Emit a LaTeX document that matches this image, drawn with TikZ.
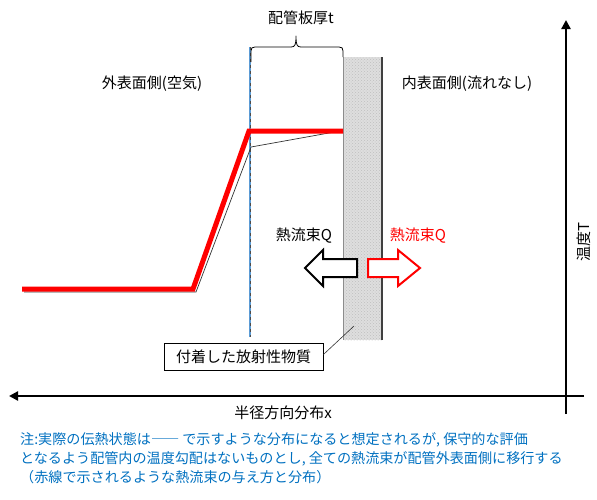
\documentclass[tikz,border=0pt]{standalone}
\usepackage{fontspec}
\setmainfont{Noto Sans CJK JP}
\usetikzlibrary{arrows.meta,patterns}
\definecolor{notec}{RGB}{0,112,192}
\definecolor{redl}{RGB}{255,0,0}
\definecolor{bluel}{RGB}{91,155,213}
\definecolor{layerc}{RGB}{222,222,222}
\begin{document}
\begin{tikzpicture}[x=1pt,y=-1pt,
  lbl/.style={inner sep=0pt,font=\fontsize{15}{17}\selectfont},
  notetxt/.style={inner sep=0pt,anchor=west,text=notec,font=\fontsize{14.1}{16}\selectfont},
  axis/.style={line width=2.4pt,-{Triangle[length=9pt,width=9pt]}},
  hollowarrow/.style={line width=2pt,fill=white,line join=miter}]
\useasboundingbox (0,0) rectangle (597,499);
% layer
\fill[layerc] (343,57) rectangle (382,340);
\fill[pattern=crosshatch dots,pattern color=black!25] (343,57) rectangle (382,340);
\draw[black!45,line width=0.6pt] (343,57) -- (343,340);
\draw[black!75,line width=1.6pt] (382,57) -- (382,340);
% pipe inner wall line (blue dashed)
\coordinate (wt) at (250,47);
\coordinate (wb) at (250,337);
\draw[bluel,line width=1.6pt] (wt) -- (wb);
\draw[black!70,line width=0.5pt,dash pattern=on 3pt off 3pt] (wt) -- (wb);
% brace
\draw[line width=0.8pt,line join=round] (251,62) -- (251,51) .. controls (251,48) and (252,47) .. (255,47) -- (291,47)
  .. controls (295,47) and (296,45) .. (296,36) .. controls (296,45) and (297,47) .. (301,47) -- (339,47)
  .. controls (342,47) and (343,48) .. (343,51) -- (343,57);
\node[lbl] (t) at (301,18) {配管板厚t};
% labels
\node[lbl] (out) at (152,84) {外表面側(空気)};
\node[lbl] (in) at (467,84) {内表面側(流れなし)};
% actual temperature (thin black)
\coordinate (b1) at (24,292);
\coordinate (b2) at (196,292);
\coordinate (b3) at (251,147);
\coordinate (b4) at (340,131);
\draw[black!80,line width=0.7pt] (b1) -- (b2) -- (b3) -- (b4);
% conservative temperature (red)
\coordinate (r1) at (22,289);
\coordinate (r2) at (193,289);
\coordinate (r3) at (249,131);
\coordinate (r4) at (343,131);
\draw[redl,line width=5pt,line join=miter] (r1) -- (r2) -- (r3) -- (r4);
% heat flux arrows
\draw[hollowarrow,draw=black] (305,268) -- (323,250) -- (323,259) -- (357,259) -- (357,277) -- (323,277) -- (323,286) -- cycle;
\draw[hollowarrow,draw=redl] (420,268) -- (398,250) -- (398,259) -- (368,259) -- (368,277) -- (398,277) -- (398,286) -- cycle;
\node[lbl] (qb) at (304,236) {熱流束Q};
\node[lbl,text=redl] (qr) at (418,236) {熱流束Q};
% callout
\node[draw=black,line width=0.8pt,fill=white,inner sep=0pt,minimum width=159pt,minimum height=27pt,font=\fontsize{15}{17}\selectfont] (dep) at (243.5,356.5) {付着した放射性物質};
\coordinate (lp) at (354,326);
\draw[black!80,line width=0.6pt] (dep.east) ++(0,-2) -- (lp);
% axes
\coordinate (xs) at (584,396);
\coordinate (xe) at (9,396);
\coordinate (ys) at (566,414);
\coordinate (ye) at (566,20);
\draw[axis] (xs) -- (xe);
\draw[axis] (ys) -- (ye);
\node[lbl] (xl) at (283,413) {半径方向分布x};
\node[lbl,rotate=90] (yl) at (584,242) {温度T};
% note
\node[notetxt] (n1) at (20,440) {注:実際の伝熱状態は―― で示すような分布になると想定されるが, 保守的な評価};
\node[notetxt] (n2) at (20,459) {となるよう配管内の温度勾配はないものとし, 全ての熱流束が配管外表面側に移行する};
\node[notetxt] (n3) at (20,477) {（赤線で示されるような熱流束の与え方と分布）};
\end{tikzpicture}
\end{document}
